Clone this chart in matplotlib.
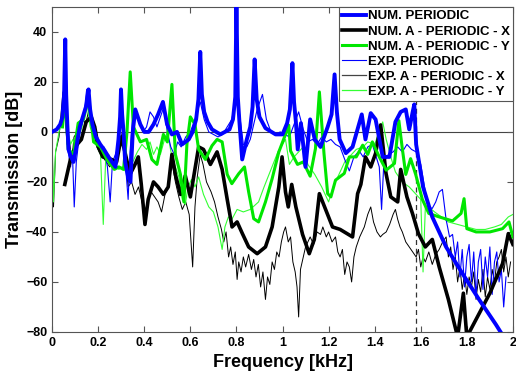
import matplotlib
matplotlib.use("Agg")
import matplotlib.pyplot as plt

plt.rcParams['font.family'] = ['Liberation Sans', 'DejaVu Sans']
plt.rcParams['font.weight'] = 'bold'

# NUM. PERIODIC (thick blue)
f_num_per = [0, 0.02, 0.035, 0.045, 0.052, 0.057, 0.061, 0.066, 0.071, 0.082, 0.093, 0.105, 0.12, 0.14,
             0.15, 0.158, 0.165, 0.175, 0.19, 0.209, 0.225, 0.245, 0.26, 0.275, 0.288, 0.295, 0.299,
             0.304, 0.31, 0.317, 0.33, 0.34, 0.35, 0.361, 0.383, 0.40, 0.419, 0.44, 0.46, 0.481, 0.499,
             0.52, 0.542, 0.564, 0.593, 0.61, 0.625, 0.635, 0.643, 0.65, 0.66, 0.675, 0.694, 0.73,
             0.77, 0.785, 0.795, 0.80, 0.806, 0.813, 0.825, 0.845, 0.86, 0.87, 0.879, 0.888, 0.90,
             0.926, 0.97, 1.0, 1.02, 1.032, 1.043, 1.05, 1.058, 1.066, 1.08, 1.10, 1.12, 1.14, 1.165,
             1.196, 1.213, 1.226, 1.236, 1.248, 1.275, 1.304, 1.344, 1.36, 1.383, 1.404, 1.435, 1.464,
             1.49, 1.513, 1.535, 1.55, 1.565, 1.572, 1.58, 1.61, 1.65, 1.71, 1.78, 1.853, 1.926, 1.96]
db_num_per = [0, 1, 3, 6, 15, 37, 15, 3, -7, -10, -12, -6, 2, 8,
              11, 17, 9, 3, -2, -5, -7, -10, -12, -14, -3, 6, 17,
              7, 0, -12, -18, -20, 0, 9, 3, 0, 0, 3, 7, 12, 3,
              -1, 0, -5, -3, 0, 5, 13, 32, 15, 8, 4, 1, -1,
              1, 5, 14, 52, 14, 4, -11, -3, 2, 10, 29, 13, 6,
              1.5, -1, -1, 3.5, 9, 27.5, 12, 4, -7, 3.5, -14, 5, -3, -6,
              2, 7, 23, 8, -3, -8.5, -6, 7, -3, 7.5, 5, -10, -10,
              4, 8, 9, 1, 8, 11, -5, -22, -34, -46, -56.5, -67, -77, -82]

# NUM. A - PERIODIC - X (thick black)
f_num_x = [0.055, 0.082, 0.104, 0.127, 0.148, 0.17, 0.185, 0.2, 0.22, 0.257, 0.28, 0.3, 0.316, 0.338,
           0.36, 0.374, 0.387, 0.403, 0.417, 0.44, 0.46, 0.483, 0.504, 0.52, 0.535, 0.557, 0.578, 0.6,
           0.636, 0.657, 0.687, 0.716, 0.738, 0.76, 0.781, 0.803, 0.825, 0.853, 0.89, 0.926, 0.955,
           0.984, 0.998, 1.013, 1.025, 1.04, 1.058, 1.087, 1.116, 1.138, 1.16, 1.187, 1.217, 1.25,
           1.304, 1.326, 1.34, 1.36, 1.383, 1.404, 1.426, 1.449, 1.47, 1.5, 1.513, 1.54, 1.564, 1.59,
           1.62, 1.65, 1.68, 1.72, 1.76, 1.785, 1.80, 1.84, 1.9, 1.955, 1.98, 2.0]
db_num_x = [-21, -10, -5.5, -3, 4, 6, 2, -6, -10, -11, -12, -2, -8, -17,
            -13, -10, -21, -37, -27, -20, -22, -25, -22, -9, -17, -25, -17.5, -26,
            -6, -7, -13, -8, -15, -27, -38, -36, -40.5, -46, -48.7, -46, -38,
            -22, -10, -24, -30, -21, -30, -41, -48.7, -43, -24.7, -31, -38, -39,
            -42, -24.7, -21, -10, -14, -8.6, 2.8, -16.5, -26, -28, -15, -26, -32.6, -40.7,
            -46, -43, -54, -67, -82, -64.5, -82, -75, -64.5, -52.7, -40.7, -45]

# NUM. A - PERIODIC - Y (thick green)
f_num_y = [0.045, 0.057, 0.07, 0.093, 0.113, 0.136, 0.158, 0.18, 0.21, 0.238, 0.27, 0.29, 0.31, 0.325,
           0.339, 0.353, 0.383, 0.41, 0.433, 0.455, 0.483, 0.5, 0.52, 0.535, 0.557, 0.572, 0.585, 0.60,
           0.62, 0.636, 0.665, 0.694, 0.716, 0.738, 0.76, 0.78, 0.81, 0.835, 0.853, 0.875, 0.896,
           0.926, 0.955, 0.984, 1.013, 1.027, 1.035, 1.065, 1.09, 1.12, 1.143, 1.16, 1.18, 1.196,
           1.21, 1.23, 1.268, 1.29, 1.32, 1.348, 1.37, 1.39, 1.42, 1.45, 1.486, 1.505, 1.52, 1.535,
           1.556, 1.578, 1.607, 1.635, 1.68, 1.738, 1.775, 1.788, 1.8, 1.84, 1.9, 1.955, 1.983, 2.0]
db_num_y = [2, 14, -7, -9, 3.5, 5, 14, -4, -6, -11, -15, -14, -15, 0,
            24, 2, -4, -3, -11, -13, -1, -4, 19, -9, -17, -28, -5, 6,
            3, -7, -11, -5.5, -3, -4, -17, -20.7, -16.7, -14, -24, -34.7, -36,
            -28, -18.7, -8, -1, 2.7, -7.6, -13, -12, -17.7, -6.7, 16, -8.6, -24.7,
            -26, -19.3, -16.6, -10, -10, -5.3, -9, -4, -10, -15.3, -12.6, 4.5, -6.7, -17,
            -10.7, -17, -27, -32.6, -34, -35.6, -32.6, -26.7, -38.7, -40, -40, -38.7, -36, -42]

# EXP. PERIODIC (thin blue)
f_exp_per = [0, 0.02, 0.04, 0.055, 0.062, 0.07, 0.08, 0.088, 0.096, 0.105, 0.12, 0.135, 0.15, 0.165,
             0.18, 0.195, 0.21, 0.225, 0.24, 0.252, 0.262, 0.275, 0.29, 0.30, 0.31, 0.32, 0.33, 0.338,
             0.35, 0.365, 0.38, 0.395, 0.41, 0.425, 0.44, 0.455, 0.47, 0.485, 0.50, 0.515, 0.53, 0.545,
             0.56, 0.58, 0.60, 0.62, 0.643, 0.66, 0.68, 0.70, 0.72, 0.74, 0.76, 0.78, 0.80, 0.815,
             0.83, 0.845, 0.86, 0.875, 0.89, 0.913, 0.93, 0.95, 0.97, 0.99, 1.01, 1.03, 1.05, 1.07,
             1.09, 1.11, 1.13, 1.15, 1.17, 1.19, 1.21, 1.23, 1.25, 1.27, 1.29, 1.31, 1.333, 1.35,
             1.37, 1.39, 1.41, 1.42, 1.43, 1.44, 1.46, 1.48, 1.50, 1.52, 1.54, 1.56, 1.58, 1.60,
             1.62, 1.635, 1.65, 1.665, 1.68, 1.694, 1.71, 1.725, 1.738, 1.75, 1.76, 1.77, 1.78, 1.79,
             1.80, 1.81, 1.82, 1.83, 1.84, 1.85, 1.86, 1.87, 1.88, 1.89, 1.90, 1.91, 1.92, 1.93,
             1.94, 1.95, 1.96, 1.97]
db_exp_per = [0, 1, 3, 10, 5, -8, -14, -8, -30, -12, 0, 5, 17, 8,
              0, -3, -8, -6, -14, -28, -12, -9, -5, 10, 2, -15, -27, -8,
              6, 8, 3, 0, 2, 8, 6, 2, 6, 10, 0, -6, -9, -4,
              -6, -2, 0, 5, 12, 5, 0, -1, -2, -1, 2, 5, 15, 6,
              -5, -6, -3, 3, 9, 15, 5, 0, -1, 0, -1, -2, 3, 8,
              1, -4, -3, -5, -2, -4, -3, -5, -6, -11, -15.6, -10, -7.6, -10,
              -6, -5, -11, -14, -31, -12, -9, -8, -6, -8, -5, -7, -8, -13,
              -24, -30, -30.6, -28, -24, -23, -35, -42, -41, -50, -44, -58, -47, -62,
              -50, -45, -60, -48, -66, -52, -47, -63, -50, -58, -46, -65, -52, -48,
              -60, -55, -70, -58]

# EXP. A - PERIODIC - X (thin black)
f_exp_x = [0.0, 0.006, 0.015, 0.03, 0.047, 0.055, 0.065, 0.075, 0.085, 0.095, 0.11, 0.13, 0.145, 0.16,
           0.175, 0.19, 0.205, 0.22, 0.235, 0.25, 0.265, 0.28, 0.295, 0.305, 0.318, 0.33, 0.345, 0.36,
           0.375, 0.385, 0.395, 0.405, 0.415, 0.43, 0.445, 0.46, 0.475, 0.49, 0.505, 0.52, 0.535, 0.55,
           0.565, 0.58, 0.595, 0.61, 0.62, 0.63, 0.643, 0.655, 0.67, 0.69, 0.705, 0.72, 0.735, 0.745,
           0.755, 0.766, 0.775, 0.785, 0.795, 0.803, 0.81, 0.82, 0.83, 0.84, 0.853, 0.865, 0.875,
           0.885, 0.895, 0.905, 0.915, 0.926, 0.935, 0.945, 0.955, 0.965, 0.975, 0.985, 0.995, 1.005,
           1.013, 1.025, 1.035, 1.045, 1.055, 1.063, 1.07, 1.078, 1.09, 1.1, 1.11, 1.12, 1.135, 1.15,
           1.165, 1.175, 1.19, 1.2, 1.215, 1.23, 1.24, 1.25, 1.26, 1.27, 1.28, 1.29, 1.3, 1.31, 1.32,
           1.335, 1.355, 1.37, 1.383, 1.395, 1.41, 1.425, 1.435, 1.45, 1.465, 1.48, 1.49, 1.5, 1.51,
           1.52, 1.535, 1.55, 1.565, 1.58, 1.59, 1.6, 1.61, 1.62, 1.635, 1.65, 1.665, 1.68, 1.695,
           1.71, 1.72, 1.73, 1.74, 1.75, 1.76, 1.77, 1.78, 1.79, 1.80, 1.81, 1.82, 1.83, 1.84, 1.85,
           1.86, 1.87, 1.88, 1.89, 1.9, 1.91, 1.92, 1.93, 1.94, 1.95, 1.96, 1.97, 1.98, 1.99]
db_exp_x = [-5, -30, -8, -2, 16, 8, -5, -3, -12, -2, 0, 6, 3, 9,
            3, -5, -8, -10, -12, -14, -11, -13, -4, 0, -10, -22, -20, -25,
            -22, -26, -30, -36, -28, -24, -26, -28, -32, -25, -22, -12, -20, -26,
            -31, -28, -33, -54, -30, -18, -9, -13, -20, -24, -28, -34, -39, -44,
            -40, -50, -46, -53, -48, -59, -52, -56, -50, -54, -49, -55, -51,
            -58, -53, -62, -56, -67, -58, -61, -52, -55, -48, -50, -44, -40,
            -38, -44, -42, -52, -56, -62, -74, -55, -50, -46, -44, -42, -45, -40,
            -41, -38, -42, -40, -44, -42, -48, -50, -47, -57, -52, -54, -60, -50, -46,
            -42, -38, -33, -30, -36, -40, -42, -41, -40, -37, -33, -31, -35, -38,
            -40, -44, -46, -48, -50, -47, -54, -50, -52, -48, -53, -49, -47, -44,
            -42, -50, -46, -55, -50, -60, -54, -63, -57, -65, -58, -62, -56, -67, -59,
            -64, -55, -66, -58, -63, -55, -60, -52, -50, -47, -56, -50, -58, -52]

# EXP. A - PERIODIC - Y (thin green)
f_exp_y = [0, 0.006, 0.015, 0.03, 0.045, 0.06, 0.07, 0.08, 0.09, 0.1, 0.115, 0.13, 0.15, 0.165,
           0.18, 0.195, 0.21, 0.222, 0.232, 0.245, 0.26, 0.275, 0.29, 0.305, 0.32, 0.335, 0.35, 0.37,
           0.39, 0.41, 0.425, 0.44, 0.455, 0.47, 0.485, 0.5, 0.51, 0.52, 0.535, 0.55, 0.565, 0.578,
           0.59, 0.605, 0.62, 0.636, 0.657, 0.68, 0.70, 0.72, 0.738, 0.75, 0.765, 0.78, 0.803, 0.83,
           0.86, 0.896, 0.92, 0.95, 0.98, 1.013, 1.03, 1.05, 1.07, 1.09, 1.11, 1.14, 1.17, 1.2,
           1.22, 1.25, 1.27, 1.29, 1.32, 1.35, 1.37, 1.40, 1.435, 1.45, 1.47, 1.49, 1.52, 1.55,
           1.58, 1.60, 1.61, 1.62, 1.635, 1.66, 1.69, 1.72, 1.76, 1.8, 1.84, 1.88, 1.92, 1.95,
           1.98, 2.0]
db_exp_y = [-3, -28, -8, 0, 5, 12, 0, -5, -3, -6, -2, 2, 13, 2,
            -2, -6, -9, -37, -12, -9, -12, -14, -15, -14, -16, -15, -12, -8,
            -5, -7, -4, -9, -6, -9, -4, 0, -5, -10, -14, -18, -27, -29,
            -22, -19, -22, -18, -25, -30, -32, -38, -47, -38, -34, -35, -31, -32,
            -31, -28, -22, -15, -8, -3, -13, -10, -8, -6, -13, -17, -22, -28,
            -22, -16, -12, -10, -7, -6, -4, -5, 4, -3, -10, -16, -20, -22,
            -25, -27, -56, -30, -30, -32, -34, -36, -37, -38, -39, -39, -38, -37,
            -34, -33]

x_ticks = [0, 0.2, 0.4, 0.6, 0.8, 1.0, 1.2, 1.4, 1.6, 1.8, 2.0]
x_tick_labels = ['0', '0.2', '0.4', '0.6', '0.8', '1', '1.2', '1.4', '1.6', '1.8', '2']
y_ticks = [-80, -60, -40, -20, 0, 20, 40]

fig = plt.figure(figsize=(5.16, 3.82), dpi=100)
ax = fig.add_axes([0.101, 0.131, 0.893, 0.851])

blue = '#0000ff'
green = '#00e600'

ax.plot(f_exp_per, db_exp_per, color=blue, lw=0.8, zorder=3)
ax.plot(f_exp_x, db_exp_x, color='black', lw=0.7, zorder=2)
ax.plot(f_exp_y, db_exp_y, color='#33ff33', lw=0.8, zorder=2.5)
ax.plot(f_num_x, db_num_x, color='black', lw=2.6, zorder=4)
ax.plot(f_num_y, db_num_y, color=green, lw=2.2, zorder=4.5)
ax.plot(f_num_per, db_num_per, color=blue, lw=2.8, zorder=5)

ax.axhline(0, color='#444444', lw=0.8, zorder=1)
ax.axvline(1.58, color='#333333', lw=0.9, ls=(0, (4, 3)), zorder=1)

# legend handles in the original order
h1, = ax.plot([], [], color=blue, lw=2.8, label='NUM. PERIODIC')
h2, = ax.plot([], [], color='black', lw=2.6, label='NUM. A - PERIODIC - X')
h3, = ax.plot([], [], color=green, lw=2.2, label='NUM. A - PERIODIC - Y')
h4, = ax.plot([], [], color=blue, lw=0.8, label='EXP. PERIODIC')
h5, = ax.plot([], [], color='#444444', lw=0.9, label='EXP. A - PERIODIC - X')
h6, = ax.plot([], [], color='#33ff33', lw=0.9, label='EXP. A - PERIODIC - Y')
leg = ax.legend(handles=[h1, h2, h3, h4, h5, h6], loc='upper right', borderaxespad=0,
                fancybox=False, framealpha=1, edgecolor='#555555',
                prop={'size': 9.5, 'weight': 'bold'}, labelspacing=0.22,
                handlelength=1.8, handletextpad=0.15, borderpad=0.25)
leg.set_zorder(10)
leg.get_frame().set_linewidth(0.8)

ax.set_xlim(0, 2)
ax.set_ylim(-80, 50)
ax.set_xticks(x_ticks)
ax.set_xticklabels(x_tick_labels)
ax.set_yticks(y_ticks)
ax.tick_params(direction='in', top=True, right=True, labelsize=9, length=4, color='#555555')
for lab in ax.get_xticklabels() + ax.get_yticklabels():
    lab.set_fontweight('bold')
for sp in ax.spines.values():
    sp.set_color('#555555')
    sp.set_linewidth(0.8)

ax.set_xlabel('Frequency [kHz]', fontsize=13, fontweight='bold', labelpad=4)
ax.set_ylabel('Transmission [dB]', fontsize=13, fontweight='bold', labelpad=2)

fig.savefig('out.png', dpi=100)
